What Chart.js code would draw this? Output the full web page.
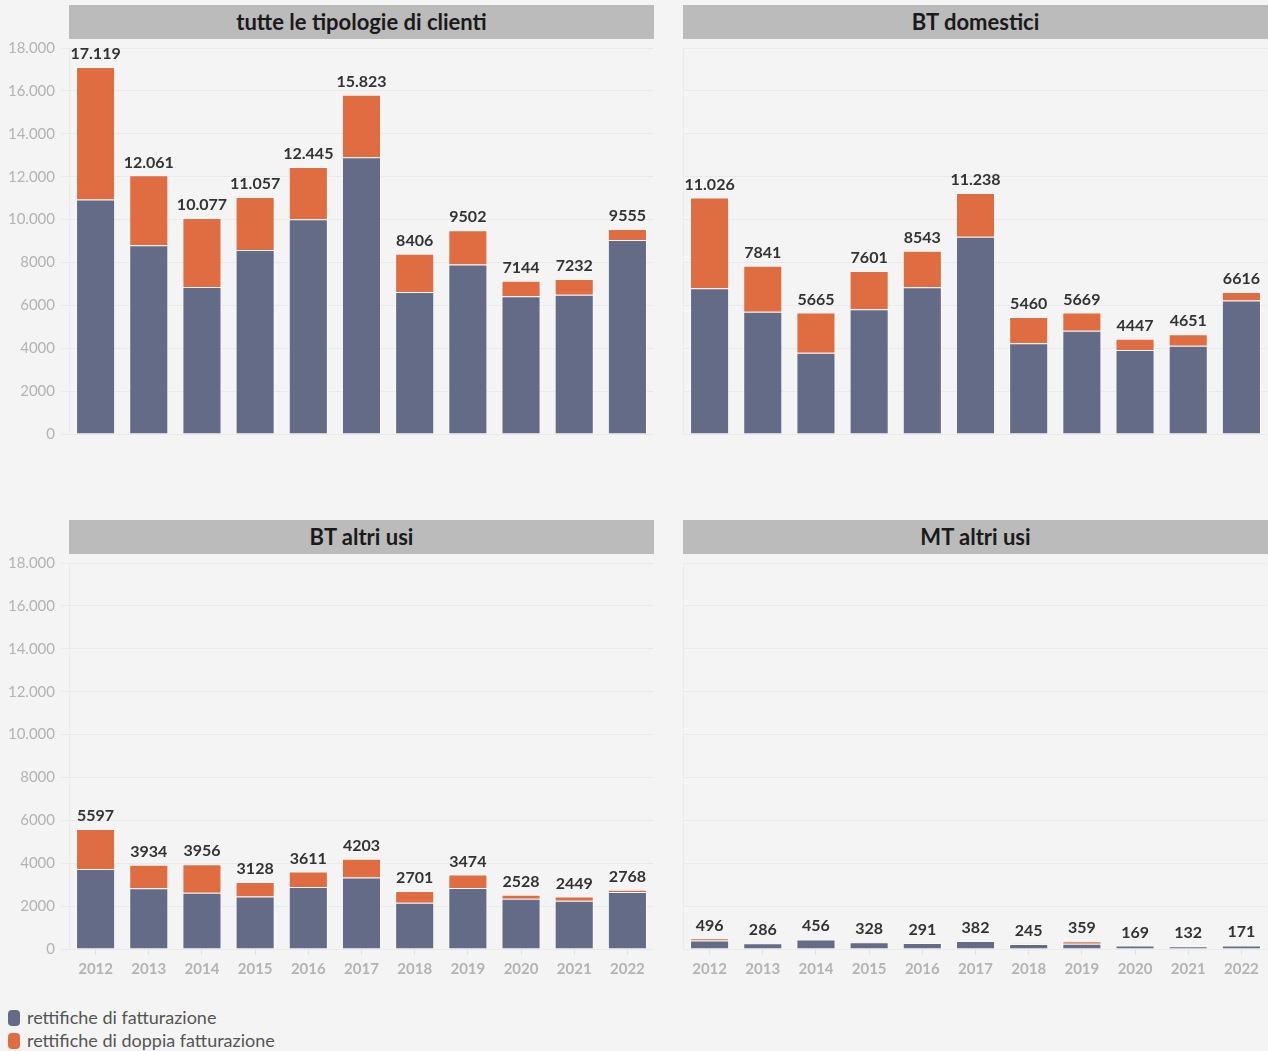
<!DOCTYPE html>
<html>
<head>
<meta charset="utf-8">
<script src="https://cdn.jsdelivr.net/npm/chart.js@4.4.1/dist/chart.umd.min.js"></script>
<style>
  body { margin: 0; background: #f4f4f4; font-family: Lato, sans-serif; width: 1268px; height: 1051px; position: relative; overflow: hidden; }
  .bar { position: absolute; height: 34px; background: #bbbbbb; color: #1a1a1a; font-weight: bold; font-size: 22px; text-align: center; line-height: 34px; }
  canvas { position: absolute; }
  .legend { position: absolute; left: 8px; top: 1006px; font-size: 18px; color: #555; }
  .legend div { height: 23px; line-height: 23px; }
  .legend span { display: inline-block; width: 12px; height: 16px; border-radius: 4px; margin-right: 7px; vertical-align: -2px; }
</style>
</head>
<body>
<div class="bar" style="left:69px;top:5px;width:585px">tutte le tipologie di clienti</div>
<div class="bar" style="left:683px;top:5px;width:585px">BT domestici</div>
<div class="bar" style="left:69px;top:520px;width:585px">BT altri usi</div>
<div class="bar" style="left:683px;top:520px;width:585px">MT altri usi</div>

<canvas id="c1" width="660" height="400" style="left:0;top:40px"></canvas>
<canvas id="c2" width="585" height="400" style="left:683px;top:40px"></canvas>
<canvas id="c3" width="660" height="430" style="left:0;top:555px"></canvas>
<canvas id="c4" width="585" height="430" style="left:683px;top:555px"></canvas>

<div class="legend">
  <div><span style="background:#636b87"></span>rettifiche di fatturazione</div>
  <div><span style="background:#e06d41"></span>rettifiche di doppia fatturazione</div>
</div>

<script>
const years = ['2012', '2013', '2014', '2015', '2016', '2017', '2018', '2019', '2020', '2021', '2022'];

const tutteFatt   = [10930, 8800, 6850, 8585, 10010, 12910, 6625, 7900, 6420, 6495, 9045];
const tutteDoppia = [6189, 3261, 3227, 2472, 2435, 2913, 1781, 1602, 724, 737, 510];

const domFatt   = [6800, 5700, 3790, 5820, 6840, 9200, 4230, 4820, 3920, 4120, 6220];
const domDoppia = [4226, 2141, 1875, 1781, 1703, 2038, 1230, 849, 527, 531, 396];

const altriFatt   = [3730, 2830, 2620, 2450, 2890, 3340, 2160, 2840, 2340, 2250, 2660];
const altriDoppia = [1867, 1104, 1336, 678, 721, 863, 541, 634, 188, 199, 108];

const mtFatt   = [400, 270, 440, 315, 280, 370, 235, 240, 160, 125, 165];
const mtDoppia = [96, 16, 16, 13, 11, 12, 10, 119, 9, 7, 6];

const yMax = 18000;
const yStep = 2000;

const blue = '#636b87';
const orange = '#e06d41';

function fmt(v) {
    const s = String(Math.round(v));
    return v >= 10000 ? s.replace(/\B(?=(\d{3})+(?!\d))/g, '.') : s;
}

// totals above each stack
const totalsPlugin = {
    id: 'totals',
    afterDatasetsDraw(chart) {
        const ctx = chart.ctx;
        const metas = chart.getSortedVisibleDatasetMetas();
        const top = metas[metas.length - 1];
        ctx.save();
        ctx.font = 'bold 16px Lato';
        ctx.fillStyle = '#333';
        ctx.textAlign = 'center';
        ctx.textBaseline = 'bottom';
        chart.data.labels.forEach((_, i) => {
            let sum = 0;
            chart.data.datasets.forEach(d => sum += d.data[i]);
            const el = top.data[i];
            ctx.fillText(fmt(sum), el.x, el.y - 5);
        });
        ctx.restore();
    }
};

function noPad(s) {
    s.paddingTop = 0;
    s.paddingBottom = 0;
    s.paddingLeft = 0;
    s.paddingRight = 0;
}

function makeChart(id, fatt, doppia, left, bottom) {
    new Chart(document.getElementById(id), {
        type: 'bar',
        data: {
            labels: years,
            datasets: [
                { label: 'rettifiche di fatturazione', data: fatt, backgroundColor: blue,
                  borderColor: 'rgba(255,255,255,0.55)', borderWidth: 1,
                  categoryPercentage: 1, barPercentage: 0.735 },
                { label: 'rettifiche di doppia fatturazione', data: doppia, backgroundColor: orange,
                  borderColor: 'rgba(255,255,255,0.55)', borderWidth: 1,
                  categoryPercentage: 1, barPercentage: 0.735 }
            ]
        },
        options: {
            responsive: false,
            animation: false,
            events: [],
            layout: { padding: { top: 8, bottom: bottom ? 0 : 6, left: 0, right: left ? 6 : 0 } },
            plugins: { legend: { display: false }, tooltip: { enabled: false } },
            scales: {
                x: {
                    stacked: true,
                    border: { display: false },
                    grid: { display: bottom, drawOnChartArea: false, offset: false, tickLength: 6, color: '#e2e2e2' },
                    ticks: { display: bottom, color: '#b3b3b3', font: { family: 'Lato', size: 15, weight: 'bold' }, padding: 5, maxRotation: 0 },
                    afterFit(s) { s.height = bottom ? 36 : 0; noPad(s); }
                },
                y: {
                    stacked: true,
                    min: 0,
                    max: yMax,
                    border: { display: true, color: '#ebebeb' },
                    grid: { color: '#eaeaea', tickLength: left ? 8 : 0 },
                    ticks: { display: left, stepSize: yStep, color: '#b3b3b3', padding: 6,
                             font: { family: 'Lato', size: 15 }, callback: v => fmt(v) },
                    afterFit(s) { s.width = left ? 69 : 0; noPad(s); }
                }
            }
        },
        plugins: [totalsPlugin]
    });
}

makeChart('c1', tutteFatt, tutteDoppia, true, false);
makeChart('c2', domFatt, domDoppia, false, false);
makeChart('c3', altriFatt, altriDoppia, true, true);
makeChart('c4', mtFatt, mtDoppia, false, true);
</script>
</body>
</html>
